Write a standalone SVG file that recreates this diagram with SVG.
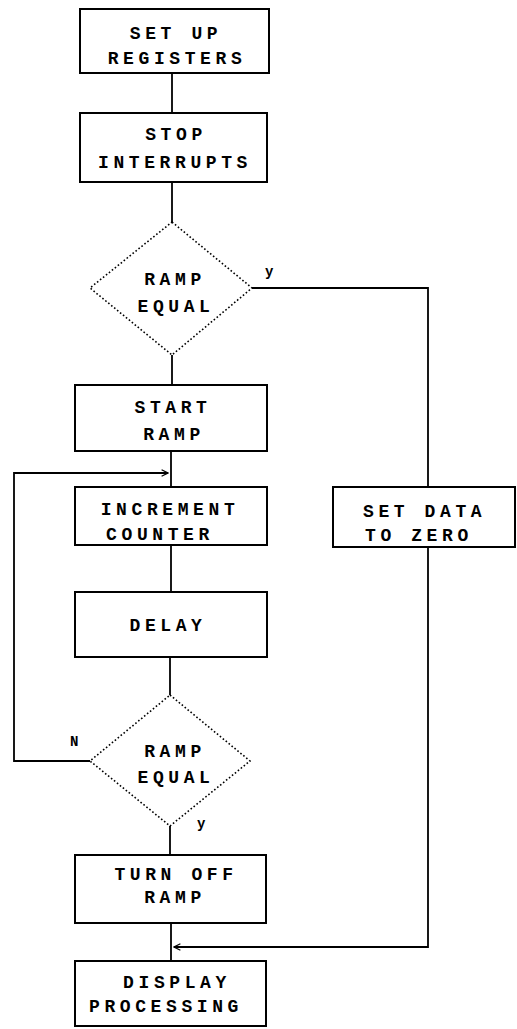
<svg xmlns="http://www.w3.org/2000/svg" width="517" height="1029" viewBox="0 0 517 1029">
<style>
.box{fill:#fff;stroke:#000;stroke-width:2}
.dia{fill:#fff;stroke:#000;stroke-width:1.6;stroke-dasharray:1.6 2.2}
.ln{fill:none;stroke:#000;stroke-width:1.8}
.t{font-family:"Liberation Mono","DejaVu Sans Mono",monospace;font-size:18px;letter-spacing:4.6px;fill:#000;font-weight:bold}
.c{text-anchor:middle}
.s{font-family:"Liberation Mono","DejaVu Sans Mono",monospace;font-size:14px;fill:#000;font-weight:bold}
</style>
<defs>
<marker id="arr" viewBox="0 0 10 10" refX="9" refY="5" markerWidth="8" markerHeight="8" orient="auto" markerUnits="userSpaceOnUse">
<polyline points="1,1 9,5 1,9" fill="none" stroke="#000" stroke-width="1.6"/>
</marker>
</defs>
<g id="connectors">
<line class="ln" x1="172" y1="73" x2="172" y2="113"/>
<line class="ln" x1="172" y1="182" x2="172" y2="222"/>
<line class="ln" x1="172" y1="355" x2="172" y2="385"/>
<polyline class="ln" points="252,288 428,288 428,487"/>
<line class="ln" x1="171" y1="451" x2="171" y2="487"/>
<polyline class="ln" points="90,761 14,761 14,473 168,473" marker-end="url(#arr)"/>
<line class="ln" x1="171" y1="545" x2="171" y2="592"/>
<line class="ln" x1="170" y1="657" x2="170" y2="695"/>
<line class="ln" x1="170" y1="826" x2="170" y2="855"/>
<line class="ln" x1="171" y1="923" x2="171" y2="961"/>
<polyline class="ln" points="428,547 428,947 174,947" marker-end="url(#arr)"/>
</g>
<g id="n1"><rect class="box" x="80" y="9" width="189" height="64"/>
<text class="t c" x="176" y="39">SET UP</text><text class="t c" x="177" y="64">REGISTERS</text></g>
<g id="n2"><rect class="box" x="80" y="113" width="187" height="69"/>
<text class="t c" x="176" y="140">STOP</text><text class="t c" x="175" y="168">INTERRUPTS</text></g>
<g id="n3"><polygon class="dia" points="172,222 252,288 172,355 90,288"/>
<text class="t c" x="175" y="285">RAMP</text><text class="t c" x="176" y="312">EQUAL</text>
<text class="s" x="265" y="276" font-weight="normal">y</text></g>
<g id="n4"><rect class="box" x="75" y="385" width="192" height="66"/>
<text class="t c" x="173" y="413">START</text><text class="t c" x="174" y="440">RAMP</text></g>
<g id="n5"><rect class="box" x="75" y="487" width="192" height="58"/>
<text class="t c" x="170" y="515">INCREMENT</text><text class="t c" x="160" y="540">COUNTER</text></g>
<g id="n6"><rect class="box" x="333" y="487" width="182" height="60"/>
<text class="t" x="363" y="517">SET DATA</text><text class="t" x="365" y="541">TO ZERO</text></g>
<g id="n7"><rect class="box" x="75" y="592" width="192" height="65"/>
<text class="t c" x="168" y="631">DELAY</text></g>
<g id="n8"><polygon class="dia" points="170,695 250,761 170,826 90,761"/>
<text class="t c" x="175" y="757">RAMP</text><text class="t c" x="176" y="783">EQUAL</text>
<text class="s" x="70" y="746">N</text><text class="s" x="197" y="828">y</text></g>
<g id="n9"><rect class="box" x="75" y="855" width="191" height="68"/>
<text class="t c" x="176" y="880">TURN OFF</text><text class="t c" x="175" y="903">RAMP</text></g>
<g id="n10"><rect class="box" x="75" y="961" width="191" height="65"/>
<text class="t c" x="177" y="988">DISPLAY</text><text class="t c" x="166" y="1012">PROCESSING</text></g>
</svg>
